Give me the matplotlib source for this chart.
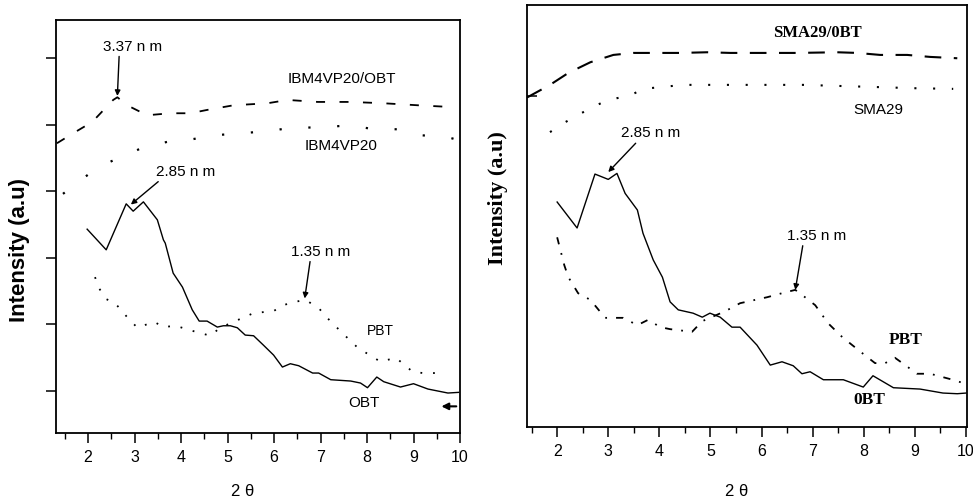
import matplotlib
matplotlib.use("Agg")
import matplotlib.pyplot as plt
from matplotlib.ticker import MultipleLocator

# ---------------- data: left panel (IBM4VP20 series) ----------------
l_obt_x = [1.98, 2.39, 2.82, 2.97, 3.19, 3.49, 3.62, 3.66, 3.83, 4.03, 4.24, 4.39, 4.56,
           4.78, 4.91, 5.06, 5.21, 5.38, 5.56, 5.77, 5.99, 6.18, 6.35, 6.53, 6.83, 6.96,
           7.22, 7.65, 7.86, 8.01, 8.21, 8.36, 8.72, 9.00, 9.31, 9.74, 9.97]
l_obt_y = [3.43, 3.12, 3.81, 3.70, 3.84, 3.57, 3.27, 3.22, 2.77, 2.56, 2.22, 2.05, 2.05,
           1.96, 1.98, 1.98, 1.95, 1.84, 1.83, 1.69, 1.54, 1.36, 1.41, 1.38, 1.27, 1.27,
           1.17, 1.15, 1.12, 1.05, 1.21, 1.14, 1.06, 1.11, 1.03, 0.97, 0.98]

l_pbt_x = [2.15, 2.22, 2.39, 2.58, 2.84, 3.06, 3.42, 3.62, 3.88, 4.31, 4.63, 4.84, 5.56,
           5.99, 6.20, 6.46, 6.68, 6.98, 7.17, 7.47, 7.80, 8.29, 8.62, 8.98, 9.20, 9.52]
l_pbt_y = [2.71, 2.56, 2.38, 2.32, 2.11, 1.95, 2.04, 1.96, 1.98, 1.89, 1.83, 1.95, 2.17,
           2.20, 2.29, 2.34, 2.37, 2.23, 2.08, 1.87, 1.65, 1.44, 1.50, 1.29, 1.27, 1.27]

l_poly_x = [1.46, 2.19, 2.69, 2.97, 3.19, 3.70, 4.24, 4.74, 5.28, 5.86, 6.35, 7.06, 7.65,
            8.14, 8.66, 9.16, 9.74, 9.95]
l_poly_y = [3.96, 4.35, 4.51, 4.59, 4.66, 4.74, 4.78, 4.84, 4.87, 4.90, 4.95, 4.96, 4.99,
            4.93, 4.93, 4.84, 4.81, 4.77]

l_blend_x = [1.33, 1.68, 2.09, 2.54, 2.63, 2.84, 3.27, 3.77, 4.20, 4.56, 5.13, 5.86, 6.29,
             6.94, 7.65, 8.36, 9.09, 9.91]
l_blend_y = [4.72, 4.87, 5.04, 5.37, 5.41, 5.29, 5.14, 5.17, 5.17, 5.22, 5.29, 5.32, 5.37,
             5.34, 5.34, 5.32, 5.29, 5.26]

# ---------------- data: right panel (SMA29 series) ----------------
r_obt_x = [2.00, 2.39, 2.74, 3.00, 3.17, 3.33, 3.57, 3.68, 3.88, 4.06, 4.21, 4.37, 4.66,
           4.84, 4.99, 5.19, 5.42, 5.58, 5.91, 6.17, 6.40, 6.62, 6.79, 6.95, 7.21, 7.60,
           7.99, 8.18, 8.58, 9.10, 9.55, 9.83, 10.00]
r_obt_y = [3.38, 2.99, 3.80, 3.72, 3.81, 3.51, 3.26, 2.91, 2.51, 2.25, 1.88, 1.76, 1.71,
           1.65, 1.71, 1.65, 1.50, 1.50, 1.23, 0.93, 0.98, 0.92, 0.80, 0.83, 0.71, 0.71,
           0.60, 0.77, 0.59, 0.57, 0.51, 0.50, 0.51]

r_pbt_x = [2.00, 2.14, 2.22, 2.41, 2.65, 2.94, 3.29, 3.57, 3.78, 4.02, 4.21, 4.64, 4.84,
           5.29, 5.58, 6.11, 6.40, 6.66, 6.85, 7.05, 7.30, 7.58, 7.97, 8.22, 8.42, 8.61,
           8.81, 9.04, 9.30, 9.69, 9.95]
r_pbt_y = [2.85, 2.43, 2.25, 2.01, 1.91, 1.64, 1.64, 1.53, 1.61, 1.50, 1.47, 1.43, 1.59,
           1.74, 1.86, 1.95, 2.01, 2.06, 1.95, 1.83, 1.56, 1.35, 1.11, 0.96, 0.96, 1.04,
           0.93, 0.80, 0.80, 0.72, 0.66]

r_poly_x = [1.86, 2.16, 2.65, 2.90, 3.17, 3.43, 3.68, 4.47, 5.19, 6.03, 6.81, 7.68, 8.13,
            8.97, 9.75]
r_poly_y = [4.43, 4.58, 4.79, 4.88, 4.94, 4.98, 5.08, 5.14, 5.14, 5.14, 5.14, 5.12, 5.11,
            5.09, 5.08]

r_blend_x = [1.41, 1.86, 2.22, 2.65, 3.10, 3.49, 3.88, 4.41, 4.94, 5.39, 6.03, 6.70, 7.48,
             7.87, 8.32, 8.85, 9.30, 9.83]
r_blend_y = [4.95, 5.14, 5.32, 5.48, 5.59, 5.62, 5.62, 5.62, 5.63, 5.62, 5.62, 5.62, 5.63,
             5.62, 5.59, 5.59, 5.56, 5.54]

x_ticks = [2, 3, 4, 5, 6, 7, 8, 9, 10]
x_tick_labels = ["2", "3", "4", "5", "6", "7", "8", "9", "10"]
left_y_ticks = [1, 2, 3, 4, 5, 6]
right_y_ticks = [4.97]

# ---------------- figure ----------------
plt.rcParams["font.family"] = ["Liberation Sans", "DejaVu Sans"]
fig = plt.figure(figsize=(9.73, 5.0), dpi=100)
W, H = 973.0, 500.0

ax1 = fig.add_axes([56 / W, 1 - 433 / H, (460 - 56) / W, (433 - 20) / H])
ax2 = fig.add_axes([527 / W, 1 - 427 / H, (967 - 527) / W, (427 - 5) / H])

k = "black"

# left panel curves
ax1.plot(l_obt_x, l_obt_y, color=k, lw=1.0)
ax1.plot(l_pbt_x, l_pbt_y, color=k, lw=1.3, ls=(0, (1, 6)))
ax1.plot(l_poly_x, l_poly_y, color=k, lw=1.6, ls=(0, (1, 12)))
ax1.plot(l_blend_x, l_blend_y, color=k, lw=1.3, ls=(0, (5, 8)))

# right panel curves
ax2.plot(r_obt_x, r_obt_y, color=k, lw=1.0)
ax2.plot(r_pbt_x, r_pbt_y, color=k, lw=1.3, ls=(0, (4, 5, 1, 5)))
ax2.plot(r_poly_x, r_poly_y, color=k, lw=1.5, ls=(0, (1, 8)))
ax2.plot(r_blend_x, r_blend_y, color=k, lw=1.5, ls=(0, (8, 6)))

for ax in (ax1, ax2):
    ax.set_xticks(x_ticks)
    ax.set_xticklabels(x_tick_labels)
    ax.xaxis.set_minor_locator(MultipleLocator(0.5))
    for s in ax.spines.values():
        s.set_linewidth(1.3)
        s.set_color(k)
    ax.tick_params(axis="x", which="major", direction="out", length=7, width=1.1,
                   labelsize=11.5, pad=5)
    ax.tick_params(axis="x", which="minor", direction="out", length=4, width=1.0)
    ax.tick_params(axis="y", labelleft=False, width=1.1, length=7)

ax1.set_xlim(1.31, 10.0)
ax1.set_ylim(0.37, 6.57)
ax1.set_yticks(left_y_ticks)
ax1.tick_params(axis="y", direction="out")

ax2.set_xlim(1.41, 10.02)
ax2.set_ylim(0.0, 6.34)
ax2.set_yticks(right_y_ticks)
ax2.tick_params(axis="y", direction="in")

arrow = dict(arrowstyle="-|>", color=k, lw=1.0, mutation_scale=8, shrinkA=0, shrinkB=0)
fs = 11

# left panel labels
ax1.annotate("3.37 n m", xy=(2.63, 5.43), xytext=(2.95, 6.17), fontsize=fs,
             ha="center", va="center", arrowprops=dict(arrow, relpos=(0.28, 0.0)))
ax1.text(7.45, 5.68, "IBM4VP20/OBT", fontsize=fs, ha="center", va="center")
ax1.text(7.45, 4.68, "IBM4VP20", fontsize=fs, ha="center", va="center")
ax1.annotate("2.85 n m", xy=(2.92, 3.80), xytext=(4.09, 4.29), fontsize=fs,
             ha="center", va="center", arrowprops=dict(arrow, relpos=(0.1, 0.0)))
ax1.annotate("1.35 n m", xy=(6.66, 2.39), xytext=(7.0, 3.09), fontsize=fs,
             ha="center", va="center", arrowprops=dict(arrow, relpos=(0.33, 0.0)))
ax1.text(8.29, 1.90, "PBT", fontsize=fs - 1, ha="center", va="center")
ax1.text(7.93, 0.82, "OBT", fontsize=fs, ha="center", va="center")
ax1.annotate("", xy=(9.6, 0.77), xytext=(9.92, 0.77),
             arrowprops=dict(arrowstyle="-|>", color=k, lw=1.5, mutation_scale=10,
                             shrinkA=0, shrinkB=0))

# right panel labels
serif_b = dict(family=["Liberation Serif", "DejaVu Serif"], fontweight="bold")
ax2.text(7.09, 5.92, "SMA29/0BT", fontsize=12, ha="center", va="center", **serif_b)
ax2.text(8.28, 4.76, "SMA29", fontsize=fs, ha="center", va="center")
ax2.annotate("2.85 n m", xy=(3.0, 3.83), xytext=(3.82, 4.41), fontsize=fs,
             ha="center", va="center", arrowprops=dict(arrow, relpos=(0.3, 0.0)))
ax2.annotate("1.35 n m", xy=(6.66, 2.06), xytext=(7.07, 2.87), fontsize=fs,
             ha="center", va="center", arrowprops=dict(arrow, relpos=(0.28, 0.0)))
ax2.text(8.81, 1.31, "PBT", fontsize=12.5, ha="center", va="center", **serif_b)
ax2.text(8.11, 0.41, "0BT", fontsize=12.5, ha="center", va="center", **serif_b)

# axis titles
fig.text(243 / W, 1 - 492 / H, "2 θ", fontsize=12, ha="center", va="center")
fig.text(737 / W, 1 - 492 / H, "2 θ", fontsize=12, ha="center", va="center")
fig.text(20 / W, 1 - 250 / H, "Intensity (a.u)", fontsize=16, fontweight="bold",
         rotation=90, ha="center", va="center")
fig.text(498 / W, 1 - 198 / H, "Intensity (a.u)", fontsize=16, rotation=90,
         ha="center", va="center", **serif_b)

fig.savefig("out.png", dpi=100)
